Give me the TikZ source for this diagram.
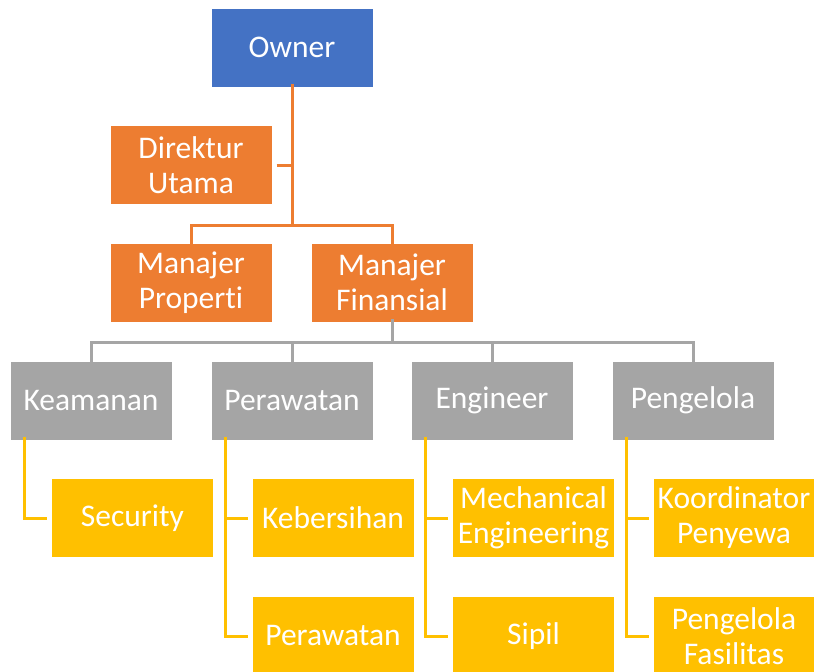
\documentclass[tikz,border=0pt]{standalone}
\usepackage{fontspec}
\setmainfont{Carlito}[Ligatures=NoCommon]
\definecolor{cblue}{HTML}{4472C4}
\definecolor{corange}{HTML}{ED7D31}
\definecolor{cgray}{HTML}{A5A5A5}
\definecolor{cyellow}{HTML}{FFC000}
\begin{document}
\begin{tikzpicture}[x=1pt,y=-1pt,
  box/.style={draw=white,line width=1pt,minimum width=162pt,minimum height=79pt,
    text=white,align=center,inner sep=2pt,font=\fontsize{31.5}{35}\selectfont},
  bluebox/.style={box,fill=cblue},
  orangebox/.style={box,fill=corange},
  graybox/.style={box,fill=cgray},
  yellowbox/.style={box,fill=cyellow},
  oline/.style={draw=corange,line width=3pt},
  gline/.style={draw=cgray,line width=3pt},
  yline/.style={draw=cyellow,line width=3pt}]
\useasboundingbox (0,0) rectangle (814,672);
% top levels
\node[bluebox] (owner) at (292,47.5) {Owner};
\node[orangebox] (dir) at (191,165) {Direktur\\Utama};
\node[orangebox] (mp) at (191,282.5) {Manajer\\Properti};
\node[orangebox] (mf) at (392,282.5) {Manajer\\Finansial};
% gray
\node[graybox] (g1) at (91,400.5) {Keamanan};
\node[graybox] (g2) at (292,400.5) {Perawatan};
\node[graybox] (g3) at (492,400.5) {Engineer};
\node[graybox] (g4) at (693,400.5) {Pengelola};
% yellow
\node[yellowbox] (y1) at (132.5,518) {Security};
\node[yellowbox] (y2a) at (333,518) {Kebersihan};
\node[yellowbox] (y2b) at (333,636) {Perawatan};
\node[yellowbox] (y3a) at (533.5,518) {Mechanical\\Engineering};
\node[yellowbox] (y3b) at (533.5,636) {Sipil};
\node[yellowbox] (y4a) at (734,518) {Koordinator\\Penyewa};
\node[yellowbox] (y4b) at (734,636) {Pengelola\\Fasilitas};
% junctions
\coordinate (oj) at (292,225);
\coordinate (gj) at (392,342);
\coordinate (v1) at ([xshift=15pt,yshift=4pt]g1.south west);
\coordinate (v2) at ([xshift=15pt,yshift=4pt]g2.south west);
\coordinate (v3) at ([xshift=15pt,yshift=4pt]g3.south west);
\coordinate (v4) at ([xshift=15pt,yshift=4pt]g4.south west);
% orange connectors
\path[oline] ([yshift=4pt]owner.south) -- (oj);
\path[oline] ([xshift=4pt]dir.east) -- (dir.east -| owner.south);
\path[oline] ([yshift=-4pt]mp.north) |- (oj) -| ([yshift=-4pt]mf.north);
% gray connectors
\path[gline] ([yshift=4pt]mf.south) -- (gj);
\path[gline] ([yshift=-4pt]g1.north) |- (gj) -| ([yshift=-4pt]g4.north);
\path[gline] ([yshift=-4pt]g2.north) -- (g2.north |- gj);
\path[gline] ([yshift=-4pt]g3.north) -- (g3.north |- gj);
% yellow connectors
\path[yline] (v1) |- ([xshift=-4pt]y1.west);
\path[yline] (v2) |- ([xshift=-4pt]y2b.west);
\path[yline] ([xshift=-4pt]y2a.west) -- (y2a.west -| v2);
\path[yline] (v3) |- ([xshift=-4pt]y3b.west);
\path[yline] ([xshift=-4pt]y3a.west) -- (y3a.west -| v3);
\path[yline] (v4) |- ([xshift=-4pt]y4b.west);
\path[yline] ([xshift=-4pt]y4a.west) -- (y4a.west -| v4);
\end{tikzpicture}
\end{document}
